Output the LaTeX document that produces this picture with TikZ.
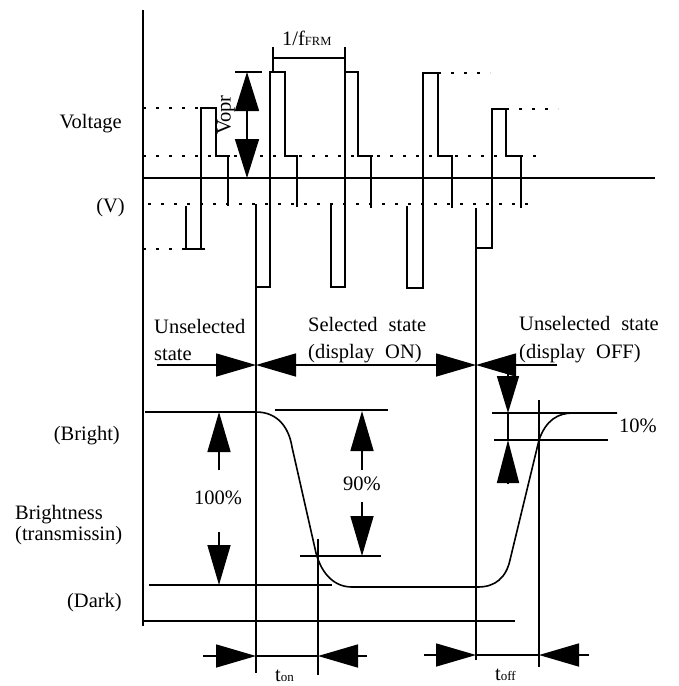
\documentclass[tikz,border=0pt]{standalone}
\usepackage{fontspec}
\setmainfont{Liberation Serif}
\usetikzlibrary{arrows.meta}
\begin{document}
\begin{tikzpicture}[x=1pt,y=-1pt,
  ln/.style={line width=1.6pt},
  dotl/.style={line width=2.6pt, dash pattern=on 2.6pt off 10.4pt},
  tri/.style={-{Triangle[length=40pt,width=23pt]}},
  dtri/.style={{Triangle[length=40pt,width=23pt]}-{Triangle[length=40pt,width=23pt]}},
  lbl/.style={inner sep=0pt, font=\fontsize{20.5}{24}\selectfont},
]
\useasboundingbox (0,0) rectangle (679,686);
\newcommand\wsp{\hspace{11pt}}
% axes
\draw[ln] (143,10) -- (143,626);
\draw[ln] (143,178) -- (655,178);
\draw[ln] (143,621) -- (515,621);
% dotted levels
\draw[dotl] (143,108) -- (201,108);
\draw[dotl] (143,156) -- (543,156);
\draw[dotl] (148,204) -- (533,204);
\draw[dotl] (143,249) -- (186,249);
\draw[dotl] (438,73) -- (490,73);
\draw[dotl] (506,109) -- (558,109);
% waveform
\draw[ln] (186,206) -- (186,249) -- (205,249);
\draw[ln] (201,249) -- (201,108) -- (216,108) -- (216,156) -- (230,156);
\draw[ln] (228,156) -- (228,206);
\draw[ln] (256,204) -- (256,673);
\draw[ln] (256,287) -- (271,287);
\draw[ln] (270,287) -- (270,72) -- (285,72) -- (285,156) -- (298,156);
\draw[ln] (297,156) -- (297,207);
\draw[ln] (331,204) -- (331,287) -- (345,287) -- (345,72) -- (358,72) -- (358,156) -- (373,156);
\draw[ln] (371,156) -- (371,208);
\draw[ln] (407,206) -- (407,288) -- (423,288) -- (423,73) -- (438,73) -- (438,156) -- (453,156);
\draw[ln] (452,156) -- (452,208);
\draw[ln] (476,208) -- (476,660);
\draw[ln] (476,248) -- (492,248) -- (492,109) -- (506,109) -- (506,156) -- (521,156) -- (521,208);
% 1/fFRM bracket
\coordinate (fa) at (273,58); \coordinate (fb) at (345,58);
\draw[ln] (273,47) -- (273,72);
\draw[ln] (345,47) -- (345,72);
\draw[ln] (fa) -- (fb);
\node[lbl, anchor=base west] (ffrm) at (282,45) {1/f{\fontsize{12.5}{12.5}\selectfont FRM}};
% Vopr
\coordinate (va) at (247,72); \coordinate (vb) at (247,178);
\draw[ln] (235,72) -- (262,72);
\draw[ln, {Triangle[length=39pt,width=24pt]}-{Triangle[length=39pt,width=24pt]}] (va) -- (vb);
\node[lbl, rotate=90] (vopr) at (226,115) {Vopr};
% left labels
\node[lbl, anchor=base east] (volt) at (122,128) {Voltage};
\node[lbl, anchor=base east] (vunit) at (125,212) {(V)};
\node[lbl, anchor=base east] (bright) at (120,440) {(Bright)};
\node[lbl, anchor=base west] (bness) at (15,519) {Brightness};
\node[lbl, anchor=base west] (trans) at (15,540) {(transmissin)};
\node[lbl, anchor=base east] (dark) at (122,607) {(Dark)};
% state labels
\node[lbl, anchor=base west] (us1) at (154,333) {Unselected};
\node[lbl, anchor=base west] (us2) at (154,360) {state};
\node[lbl, anchor=base west] (ss1) at (308,331) {Selected\wsp state};
\node[lbl, anchor=base west] (ss2) at (308,358) {(display\wsp ON)};
\node[lbl, anchor=base west] (uo1) at (519,330) {Unselected\wsp state};
\node[lbl, anchor=base west] (uo2) at (519,358) {(display\wsp OFF)};
% state arrows
\coordinate (s0) at (157,365); \coordinate (s1) at (256,365);
\coordinate (s2) at (476,365); \coordinate (s3) at (557,365);
\draw[ln, tri] (s0) -- (s1);
\draw[ln, dtri] (s1) -- (s2);
\draw[ln, tri] (s3) -- (s2);
% brightness curve
\draw[ln] (145,412) -- (256,412) .. controls (278,412) and (289,428) .. (292,447)
  -- (316,553) .. controls (322,575) and (335,587) .. (352,587)
  -- (478,587) .. controls (495,587) and (506,578) .. (510,560)
  -- (539,440) .. controls (546,420) and (558,413) .. (573,413) -- (617,413);
% 100%
\draw[ln] (149,585) -- (332,585);
\draw[ln, tri] (219,470) -- (219,412);
\draw[ln, tri] (219,532) -- (219,585);
\node[lbl] (p100) at (218,498) {100\%};
% 90%
\draw[ln] (275,410) -- (388,410);
\draw[ln] (300,556) -- (381,556);
\draw[ln, tri] (362,470) -- (362,411);
\draw[ln, tri] (362,502) -- (362,556);
\node[lbl] (p90) at (362,484) {90\%};
% 10%
\draw[ln] (492,413) -- (573,413);
\draw[ln] (494,440) -- (608,440);
\draw[ln, -{Triangle[length=37pt,width=22pt]}] (508,365) -- (508,413);
\draw[ln] (508,413) -- (508,440);
\draw[ln, -{Triangle[length=43pt,width=22pt]}] (508,484) -- (508,440);
\node[lbl] (p10) at (638,426) {10\%};
% ton / toff verticals
\draw[ln] (318,539) -- (318,675);
\draw[ln] (539,400) -- (539,667);
% ton arrows
\coordinate (t0) at (203,656); \coordinate (t1) at (256,656);
\coordinate (t2) at (318,656); \coordinate (t3) at (367,656);
\draw[ln, tri] (t0) -- (t1);
\draw[ln] (t1) -- (t2);
\draw[ln, tri] (t3) -- (t2);
\node[lbl, anchor=base west] (ton) at (275,681) {t{\fontsize{13}{13}\selectfont on}};
% toff arrows
\coordinate (u0) at (424,655); \coordinate (u1) at (476,655);
\coordinate (u2) at (539,655); \coordinate (u3) at (589,655);
\draw[ln, tri] (u0) -- (u1);
\draw[ln] (u1) -- (u2);
\draw[ln, tri] (u3) -- (u2);
\node[lbl, anchor=base west] (toff) at (495,680) {t{\fontsize{13}{13}\selectfont off}};
\end{tikzpicture}
\end{document}
